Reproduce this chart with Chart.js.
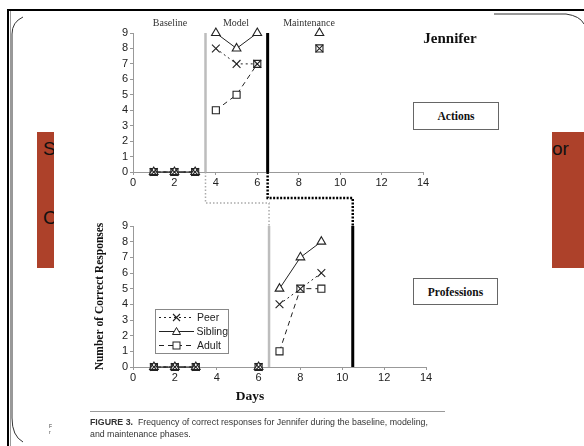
<!DOCTYPE html>
<html lang="en">
<head>
<meta charset="UTF-8">
<title>Jennifer - correct responses</title>
<script src="https://cdn.jsdelivr.net/npm/chart.js"></script>
<style>
  body { margin:0; width:584px; height:446px; overflow:hidden; background:#fff; position:relative; font-family:'Liberation Serif', serif; color:#111; }
  canvas { position:absolute; left:0; }
  .lbl { position:absolute; transform:translate(-50%,-50%); white-space:nowrap; }
  .red { position:absolute; background:#ad412a; overflow:hidden; font-family:'Liberation Sans', Arial, sans-serif; font-size:19px; color:#111; }
  .box { position:absolute; border:1px solid #666; display:flex; align-items:center; justify-content:center; font-weight:bold; font-size:11.5px; background:#fff; }
  #legend { position:absolute; left:155px; top:309px; width:72px; height:43px; border:1px solid #888; background:#fff; font-family:'Liberation Sans', Arial, sans-serif; font-size:10.5px; color:#222; }
  #legend div { height:14px; display:flex; align-items:center; }
  #legend svg { margin-left:1px; margin-right:2px; }
  .caption { position:absolute; left:90px; top:416px; font-family:'Liberation Sans', Arial, sans-serif; font-size:8.8px; line-height:12px; color:#333; }
</style>
</head>
<body>

<!-- slide frame -->
<svg width="584" height="446" style="position:absolute;left:0;top:0">
  <line x1="7" y1="10" x2="584" y2="10" stroke="#000" stroke-width="2"/>
  <line x1="8" y1="9" x2="8" y2="446" stroke="#000" stroke-width="2"/>
  <line x1="10.5" y1="11" x2="10.5" y2="446" stroke="#999" stroke-width="1"/>
  <path d="M23 17 Q12 22 12 34 L12 418 Q12 436 23 442" fill="none" stroke="#333" stroke-width="1"/>
  <path d="M494 14 L566 14 Q580 16 584 24" fill="none" stroke="#333" stroke-width="1"/>
</svg>

<div class="red" style="left:37px;top:132px;width:17px;height:136px;">
  <span style="position:absolute;left:6px;top:6px;">S</span>
  <span style="position:absolute;left:6px;top:75px;">C</span>
</div>
<div class="red" style="left:552px;top:132px;width:32px;height:136px;">
  <span style="position:absolute;left:0px;top:6px;">or</span>
</div>

<canvas id="actions" width="584" height="200" style="top:0"></canvas>
<canvas id="professions" width="584" height="190" style="top:200px"></canvas>
<canvas id="overlay" width="584" height="446" style="top:0"></canvas>

<div class="lbl" style="left:170px;top:22px;font-size:10px;color:#333">Baseline</div>
<div class="lbl" style="left:236px;top:22px;font-size:10px;color:#333">Model</div>
<div class="lbl" style="left:309px;top:22px;font-size:10px;color:#333">Maintenance</div>
<div class="lbl" style="left:450px;top:38px;font-size:15px;font-weight:bold">Jennifer</div>
<div class="box" style="left:413px;top:102px;width:84px;height:26px;">Actions</div>
<div class="box" style="left:413px;top:278px;width:83px;height:25px;">Professions</div>
<div class="lbl" style="left:250px;top:396px;font-size:13.5px;font-weight:bold">Days</div>

<div id="legend"></div>

<div style="position:absolute;left:90px;top:411px;width:355px;height:1px;background:#999"></div>
<div class="caption"><b>FIGURE 3.</b>&nbsp; Frequency of correct responses for Jennifer during the baseline, modeling,<br>and maintenance phases.</div>
<div style="position:absolute;left:49px;top:423px;font-family:'Liberation Sans',sans-serif;font-size:5px;line-height:6px;color:#444">F<br>r</div>

<script>
// ---- data ----
const seriesNames = ['Peer', 'Sibling', 'Adult'];

// Actions panel
const actionsDays    = [1, 2, 3, 4, 5, 6, 9];
const actionsSegment = [0, 0, 0, 1, 1, 1, 2];   // which connected run each point belongs to
const actionsPeer    = [0, 0, 0, 8, 7, 7, 8];
const actionsSibling = [0, 0, 0, 9, 8, 9, 9];
const actionsAdult   = [0, 0, 0, 4, 5, 7, 8];
const actionsPhaseChanges = [3.5, 6.5];

// Professions panel
const profDays    = [1, 2, 3, 6, 7, 8, 9];
const profSegment = [0, 0, 0, 1, 2, 2, 2];
const profPeer    = [0, 0, 0, 0, 4, 5, 6];
const profSibling = [0, 0, 0, 0, 5, 7, 8];
const profAdult   = [0, 0, 0, 0, 1, 5, 5];
const profPhaseChanges = [6.5, 10.5];

const xTicks = [0, 2, 4, 6, 8, 10, 12, 14];
const yTicks = [0, 1, 2, 3, 4, 5, 6, 7, 8, 9];

// ---- helpers ----
function toPoints(days, values, segs) {
  const pts = [];
  days.forEach((d, i) => {
    if (i > 0 && segs[i] !== segs[i - 1]) pts.push({ x: (d + days[i - 1]) / 2, y: null });
    pts.push({ x: d, y: values[i] });
  });
  return pts;
}

const styles = {
  Peer:    { borderDash: [2, 3], pointStyle: 'crossRot', pointRadius: 5.5, pointBackgroundColor: 'rgba(0,0,0,0)' },
  Sibling: { borderDash: [],     pointStyle: 'triangle', pointRadius: 5,   pointBackgroundColor: '#fff' },
  Adult:   { borderDash: [5, 4], pointStyle: 'rect',     pointRadius: 5,   pointBackgroundColor: '#fff' }
};

function makeDatasets(days, segs, values) {
  return seriesNames.map((name, i) => Object.assign({
    label: name,
    data: toPoints(days, values[i], segs),
    showLine: true,
    clip: false,
    borderColor: '#222',
    borderWidth: 1,
    pointBorderColor: '#222',
    pointBorderWidth: 1.1
  }, styles[name]));
}

const phasePlugin = {
  id: 'phases',
  beforeDatasetsDraw(chart, args, opts) {
    const { ctx, chartArea, scales } = chart;
    opts.lines.forEach((x, i) => {
      const px = scales.x.getPixelForValue(x);
      ctx.save();
      ctx.strokeStyle = i === 0 ? '#bdbdbd' : '#000';
      ctx.lineWidth = i === 0 ? 2.5 : 3;
      ctx.beginPath();
      ctx.moveTo(px, chartArea.top);
      ctx.lineTo(px, chartArea.bottom);
      ctx.stroke();
      ctx.restore();
    });
  }
};

function panelOptions(pad, lines, showTitle) {
  const tickFont = { family: "'Liberation Sans', Arial, sans-serif", size: 11 };
  return {
    animation: false,
    responsive: false,
    layout: { padding: pad },
    plugins: { legend: { display: false }, tooltip: { enabled: false }, phases: { lines: lines } },
    scales: {
      x: {
        type: 'linear', min: 0, max: 14,
        afterBuildTicks: s => { s.ticks = xTicks.map(v => ({ value: v })); },
        ticks: { color: '#222', font: tickFont, padding: 1, maxRotation: 0, autoSkip: false },
        grid: { drawOnChartArea: false, tickLength: 3, color: '#999' },
        border: { color: '#999' },
        afterFit: s => { s.height = 20; }
      },
      y: {
        type: 'linear', min: 0, max: 9,
        afterBuildTicks: s => { s.ticks = yTicks.map(v => ({ value: v })); },
        ticks: { color: '#222', font: tickFont, padding: 2, autoSkip: false },
        grid: { drawOnChartArea: false, tickLength: 3, color: '#999' },
        border: { color: '#999' },
        title: { display: showTitle, text: 'Number of Correct Responses', color: '#111', padding: 0,
                 font: { family: "'Liberation Serif', serif", size: 11.5, weight: 'bold' } },
        afterFit: s => { s.width = 40; }
      }
    }
  };
}

const topChart = new Chart(document.getElementById('actions'), {
  type: 'scatter',
  data: { datasets: makeDatasets(actionsDays, actionsSegment, [actionsPeer, actionsSibling, actionsAdult]) },
  options: panelOptions({ left: 93, right: 161, top: 33, bottom: 8 }, actionsPhaseChanges, false),
  plugins: [phasePlugin]
});

const botChart = new Chart(document.getElementById('professions'), {
  type: 'scatter',
  data: { datasets: makeDatasets(profDays, profSegment, [profPeer, profSibling, profAdult]) },
  options: panelOptions({ left: 93, right: 158, top: 26, bottom: 3 }, profPhaseChanges, true),
  plugins: [phasePlugin]
});

// dotted connectors between the phase lines of the two panels
const ov = document.getElementById('overlay').getContext('2d');
function connector(i, yMid, color, width, dash) {
  const x1 = topChart.scales.x.getPixelForValue(actionsPhaseChanges[i]);
  const y1 = topChart.chartArea.bottom;
  const x2 = botChart.scales.x.getPixelForValue(profPhaseChanges[i]);
  const y2 = botChart.chartArea.top + 200;
  ov.save();
  ov.strokeStyle = color;
  ov.lineWidth = width;
  ov.setLineDash(dash);
  ov.beginPath();
  ov.moveTo(x1, y1);
  ov.lineTo(x1, yMid);
  ov.lineTo(x2, yMid);
  ov.lineTo(x2, y2);
  ov.stroke();
  ov.restore();
}
connector(0, 203, '#aaa', 1.5, [1.5, 2]);
connector(1, 198, '#000', 2.5, [2, 1.5]);

// legend
const legend = document.getElementById('legend');
seriesNames.forEach(name => {
  const st = styles[name];
  let mark = '';
  if (st.pointStyle === 'crossRot') mark = '<path d="M16 3 L23 10 M23 3 L16 10" stroke="#222" stroke-width="1.1"/>';
  if (st.pointStyle === 'triangle') mark = '<path d="M19.5 2.5 L23.5 9.5 L15.5 9.5 Z" fill="#fff" stroke="#222"/>';
  if (st.pointStyle === 'rect') mark = '<rect x="16" y="3" width="7" height="7" fill="#fff" stroke="#222"/>';
  const dash = st.borderDash.length ? st.borderDash.join(',') : 'none';
  const row = document.createElement('div');
  row.innerHTML = '<svg width="38" height="13"><line x1="2" y1="6.5" x2="37" y2="6.5" stroke="#222" stroke-dasharray="' + dash + '"/>' + mark + '</svg><span>' + name + '</span>';
  legend.appendChild(row);
});
</script>
</body>
</html>
